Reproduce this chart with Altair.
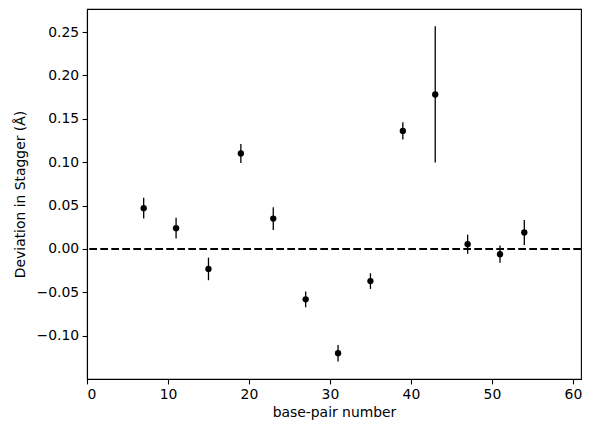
import altair as alt
import pandas as pd

base_pair = [7, 11, 15, 19, 23, 27, 31, 35, 39, 43, 47, 51, 54]
deviation = [0.047, 0.024, -0.023, 0.110, 0.035, -0.058, -0.120, -0.037, 0.136, 0.178, 0.0055, -0.006, 0.019]
error = [0.012, 0.012, 0.013, 0.011, 0.013, 0.009, 0.0095, 0.009, 0.010, 0.0785, 0.011, 0.010, 0.0145]

df = pd.DataFrame({"x": base_pair, "y": deviation, "e": error})
df["lo"] = df["y"] - df["e"]
df["hi"] = df["y"] + df["e"]

xs = alt.Scale(domain=[0, 61], nice=False, zero=False)
ys = alt.Scale(domain=[-0.1498, 0.2765], nice=False, zero=False)

xax = alt.Axis(title="base-pair number", values=[0, 10, 20, 30, 40, 50, 60], format="d")
yax = alt.Axis(title="Deviation in Stagger (Å)", values=[-0.10, -0.05, 0.0, 0.05, 0.10, 0.15, 0.20, 0.25], format=".2f")

base = alt.Chart(df)

bars = base.mark_rule(color="black", strokeWidth=1.3).encode(
    x=alt.X("x:Q", scale=xs, axis=xax),
    y=alt.Y("lo:Q", scale=ys, axis=yax),
    y2="hi:Q",
)

pts = base.mark_circle(color="black", opacity=1, size=40).encode(
    x=alt.X("x:Q", scale=xs),
    y=alt.Y("y:Q", scale=ys),
)

zero = alt.Chart(pd.DataFrame({"z": [0.0]})).mark_rule(
    color="black", strokeWidth=2, strokeDash=[7.7, 3.3]
).encode(y=alt.Y("z:Q", scale=ys))

chart = alt.layer(zero, bars, pts).properties(
    width=494,
    height=370,
    autosize=alt.AutoSizeParams(type="none"),
    padding={"left": 79, "top": 1, "right": 4, "bottom": 48},
).configure_view(
    stroke="black", strokeWidth=1.1
).configure_axis(
    grid=False,
    domainColor="black",
    domainWidth=1.1,
    tickColor="black",
    tickWidth=1.1,
    tickSize=4.9,
    labelPadding=3.5,
    labelFont="DejaVu Sans",
    labelFontSize=13.9,
    labelColor="black",
    titleFont="DejaVu Sans",
    titleFontSize=13.9,
    titleFontWeight="normal",
    titleColor="black",
).configure_axisX(
    titlePadding=4,
).configure_axisY(
    titlePadding=9,
)

chart.save("out.html", embed_options={"renderer": "svg", "actions": False})
